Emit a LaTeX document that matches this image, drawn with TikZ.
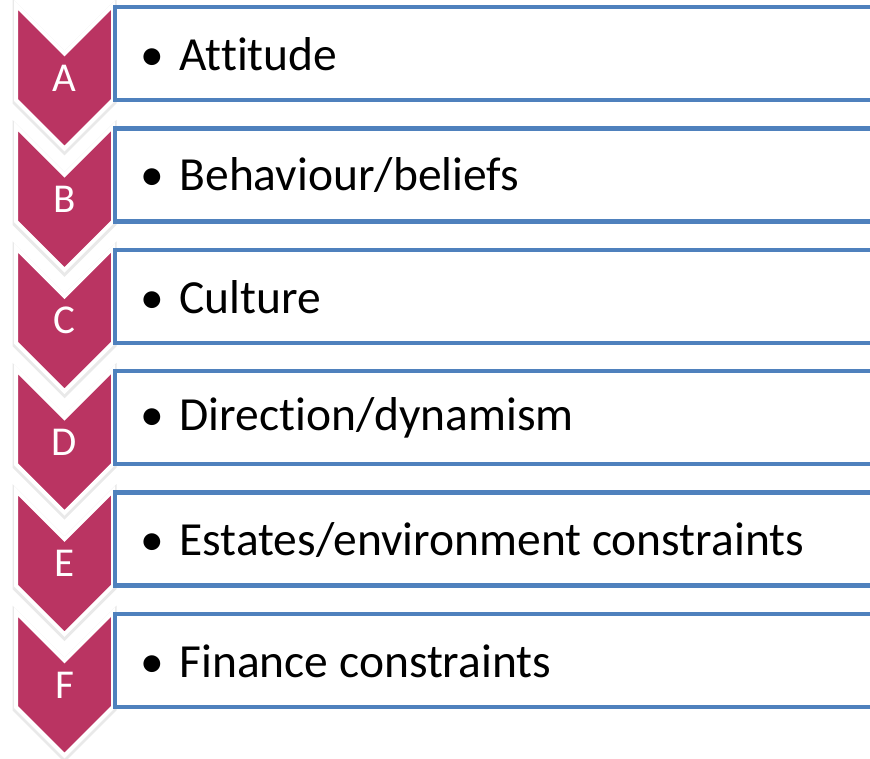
\documentclass[tikz,border=0pt]{standalone}
\usepackage{fontspec}
\setmainfont[Ligatures={NoCommon}]{Carlito}
\definecolor{chev}{HTML}{BA3462}
\definecolor{boxblue}{HTML}{4F81BD}
\begin{document}
\begin{tikzpicture}[x=1pt,y=-1pt,
  chevshape/.style={fill=chev,draw=white,line width=4pt,line join=miter},
  chevshadow/.style={draw=black!25,line width=7pt,opacity=0.35,line join=miter},
  itembox/.style={draw=boxblue,line width=4.5pt,fill=white},
  chevlabel/.style={text=white,font=\fontsize{41}{48}\selectfont,inner sep=0pt},
  itemtext/.style={anchor=west,font=\fontsize{47.5}{56}\selectfont,inner sep=0pt}]
\useasboundingbox (0,0) rectangle (870,759);
\clip (0,0) rectangle (870,759);
\foreach \i/\T [count=\k from 0] in {A/{Attitude},B/{Behaviour/beliefs},C/{Culture},D/{Direction/dynamism},E/{Estates/environment constraints},F/{Finance constraints}}{
  \pgfmathsetmacro{\y}{7+121.4*\k}
  % item box
  \draw[itembox] (115,\y) rectangle (885,\y+93);
  \node[itemtext] (t\i) at (140,\y+47) {•\hspace{0.33em}\T};
}
\foreach \i/\L [count=\k from 0] in {F/F,E/E,D/D,C/C,B/B,A/A}{
  \pgfmathsetmacro{\y}{5+121.4*(5-\k)}
  \draw[chevshadow] (16,\y+2) -- (64.5,\y+50.5) -- (113,\y+2) -- (113,\y+97) -- (64.5,\y+145.5) -- (16,\y+97) -- cycle;
  \draw[chevshape] (16,\y) -- (64.5,\y+48.5) -- (113,\y) -- (113,\y+95) -- (64.5,\y+143.5) -- (16,\y+95) -- cycle;
  \node[chevlabel] (c\i) at (64.5,\y+73) {\L};
}
% redraw box left borders on top of chevrons
\foreach \k in {0,...,5}{
  \pgfmathsetmacro{\y}{7+121.4*\k}
  \draw[boxblue,line width=4.5pt] (115,\y-2.25) -- (115,\y+95.25);
}
\end{tikzpicture}
\end{document}
